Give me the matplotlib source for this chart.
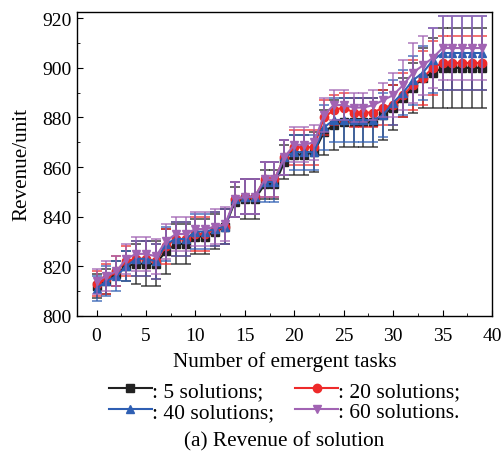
import numpy as np
import matplotlib.pyplot as plt
from matplotlib.ticker import MultipleLocator

plt.rcParams['font.family'] = ['Liberation Serif', 'DejaVu Serif']
plt.rcParams['mathtext.fontset'] = 'stix'

# ── Data ─────────────────────────────────────────────────────────────────────
tasks = np.arange(40)

rev_5 = [812, 814, 817, 820, 821, 821, 821, 826, 829, 829,
         832, 832, 834, 836, 846, 847, 847, 853, 853, 862,
         865, 865, 866, 874, 877, 878, 878, 878, 878, 881,
         884, 888, 892, 896, 898, 900, 900, 900, 900, 900]
err_5 = [5, 5, 5, 6, 8, 9, 9, 9, 8, 8,
         7, 7, 7, 7, 6, 8, 8, 6, 6, 7,
         8, 8, 8, 9, 10, 10, 10, 10, 10, 10,
         9, 8, 10, 12, 14, 16, 16, 16, 16, 16]

rev_20 = [813, 815, 818, 822, 823, 823, 822, 828, 831, 831,
          833, 833, 835, 836, 847, 848, 848, 855, 855, 864,
          868, 868, 868, 880, 883, 884, 882, 882, 882, 884,
          885, 889, 893, 896, 900, 902, 902, 902, 902, 902]
err_20 = [5, 6, 6, 6, 7, 7, 7, 7, 7, 7,
          7, 7, 7, 7, 7, 7, 7, 7, 7, 7,
          7, 7, 7, 7, 6, 6, 6, 6, 6, 7,
          8, 9, 10, 11, 11, 11, 11, 11, 11, 11]

rev_40 = [811, 814, 816, 820, 823, 823, 822, 829, 831, 831,
          834, 834, 835, 836, 847, 848, 848, 854, 854, 864,
          866, 866, 866, 876, 879, 879, 879, 879, 879, 881,
          886, 890, 895, 898, 903, 906, 906, 906, 906, 906]
err_40 = [5, 6, 6, 6, 7, 7, 7, 7, 7, 7,
          7, 7, 7, 7, 7, 7, 7, 8, 8, 7,
          7, 7, 7, 9, 9, 9, 9, 9, 9, 9,
          9, 9, 10, 11, 13, 15, 15, 15, 15, 15]

rev_60 = [814, 816, 818, 823, 825, 825, 824, 830, 833, 833,
          835, 835, 836, 837, 847, 848, 848, 855, 855, 864,
          869, 869, 870, 881, 885, 885, 884, 884, 885, 887,
          889, 893, 898, 901, 904, 908, 908, 908, 908, 908]
err_60 = [5, 6, 6, 6, 7, 7, 7, 7, 7, 7,
          7, 7, 7, 7, 7, 7, 7, 7, 7, 7,
          7, 7, 7, 7, 6, 6, 6, 6, 6, 7,
          9, 10, 12, 12, 12, 13, 13, 13, 13, 13]

series = [
    (rev_5, err_5, '#222222', 's', ': 5 solutions;'),
    (rev_20, err_20, '#ee2a2a', 'o', ': 20 solutions;'),
    (rev_40, err_40, '#2f5fb3', '^', ': 40 solutions;'),
    (rev_60, err_60, '#a163b3', 'v', ': 60 solutions.'),
]

# ── Figure ───────────────────────────────────────────────────────────────────
fig = plt.figure(figsize=(5.02, 4.52), dpi=100)
ax = fig.add_axes([0.153, 0.299, 0.827, 0.672])

handles = []
for vals, errs, col, mk, lab in series:
    ax.errorbar(tasks, vals, yerr=errs, fmt='none', ecolor=col, elinewidth=1.1,
                capsize=3.5, capthick=1.1, alpha=0.85)
    h, = ax.plot(tasks, vals, '-', color=col, marker=mk, ms=6, lw=1.5, label=lab)
    handles.append(h)

ax.set_xlim(-2, 40)
ax.set_ylim(800, 922.5)
ax.xaxis.set_major_locator(MultipleLocator(5))
ax.xaxis.set_minor_locator(MultipleLocator(2.5))
ax.yaxis.set_major_locator(MultipleLocator(20))
ax.yaxis.set_minor_locator(MultipleLocator(10))
ax.tick_params(which='both', direction='in', top=False, right=False, labelsize=14)
ax.tick_params(which='major', length=4)
ax.tick_params(which='minor', length=2.5)
ax.tick_params(axis='x', pad=8)
for s in ax.spines.values():
    s.set_linewidth(1.0)

ax.set_xlabel('Number of emergent tasks', fontsize=15.2, labelpad=5)
ax.set_ylabel('Revenue/unit', fontsize=15.2, labelpad=8)

# legend is filled row by row: 5 | 20 on top, 40 | 60 below
order = [0, 2, 1, 3]
fig.legend(handles=[handles[i] for i in order], ncol=2, frameon=False, loc='center',
           bbox_to_anchor=(0.567, 0.11), fontsize=15.5, handlelength=2.0,
           handletextpad=0.0, columnspacing=1.0, labelspacing=0.05,
           borderpad=0.0)

fig.text(0.566, 0.022, '(a) Revenue of solution', ha='center', va='center', fontsize=15.3)

fig.savefig('out.png', dpi=100)
